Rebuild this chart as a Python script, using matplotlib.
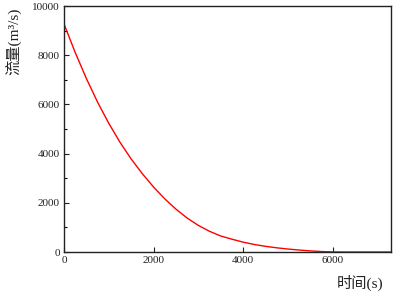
import matplotlib
matplotlib.use("Agg")
import matplotlib.pyplot as plt
from matplotlib.ticker import MultipleLocator

plt.rcParams['font.family'] = ['Liberation Serif', 'Noto Sans CJK SC', 'DejaVu Sans']

time_s = [0, 250, 500, 750, 1000, 1250, 1500, 1750, 2000, 2250, 2500, 2750, 3000,
          3250, 3500, 3750, 4000, 4250, 4500, 4750, 5000, 5250, 5500, 5750, 6000,
          6250, 6500, 7000, 7300]
flow = [9270, 8110, 7050, 6090, 5230, 4460, 3780, 3180, 2640, 2160, 1740, 1380, 1080,
        840, 650, 520, 400, 305, 230, 170, 120, 80, 45, 18, 4,
        0, 0, 0, 0]

x_ticks = [0, 2000, 4000, 6000]
y_ticks = [0, 2000, 4000, 6000, 8000, 10000]

fig = plt.figure(figsize=(3.94, 2.94), dpi=100)
ax = fig.add_axes([64/394, 42/294, 327/394, 246/294])
ax.plot(time_s, flow, color='#ff0000', lw=1.0)
ax.set_xlim(0, 7300)
ax.set_ylim(0, 10000)
ax.set_xticks(x_ticks)
ax.set_yticks(y_ticks)
ax.yaxis.set_minor_locator(MultipleLocator(1000))
ax.tick_params(which='major', direction='in', length=3.5, width=0.8, labelsize=8,
               top=False, right=False, colors='#222222', labelcolor='#222222')
ax.tick_params(which='minor', axis='y', direction='in', length=2.2, width=0.8, right=False)
ax.tick_params(axis='y', pad=3)
ax.tick_params(axis='x', pad=3)
for s in ax.spines.values():
    s.set_linewidth(1.0)
    s.set_color('#222222')

fig.text(13/394, 1 - 8/294, '流量(m³/s)', rotation=90, ha='center', va='top',
         fontsize=11, color='#222222',
         family=['Liberation Serif', 'Noto Sans CJK SC'])
fig.text(383/394, 1 - 283/294, '时间(s)', ha='right', va='center', fontsize=11,
         color='#222222', family=['Liberation Serif', 'Noto Sans CJK SC'])

fig.savefig('out.png', dpi=100)
